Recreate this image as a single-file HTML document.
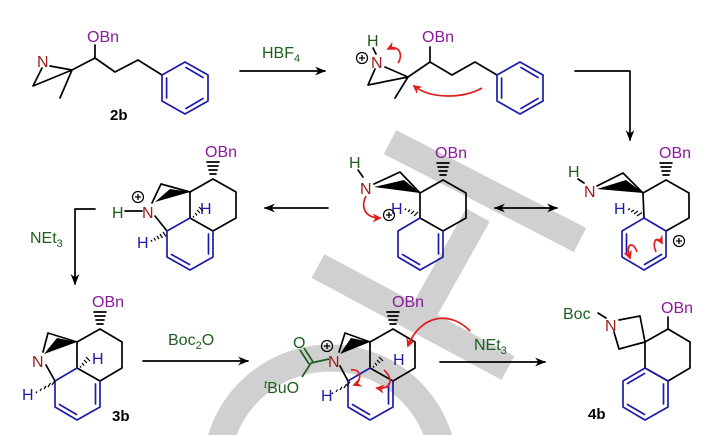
<!DOCTYPE html>
<html><head><meta charset="utf-8"><style>
html,body{margin:0;padding:0;background:#fff;width:715px;height:435px;overflow:hidden;}
svg{display:block;}
text{font-family:"Liberation Sans",Arial,sans-serif;}
.b{stroke:#000;stroke-width:1.7;fill:none;stroke-linecap:round;stroke-linejoin:round}
.u{stroke:#1c1ca8;stroke-width:1.7;fill:none;stroke-linecap:round;stroke-linejoin:round}
.r{stroke:#e21d1d;stroke-width:1.7;fill:none}
.ob{fill:#8b1a9c;font-size:16px}
.nr{fill:#9b1b1b;font-size:16px}
.gr{fill:#1e5e1e;font-size:16px}
.bl{fill:#1c1ca8;font-size:16px}
.lab{font-weight:bold;font-size:15px;fill:#000}
</style></head><body>
<svg width="715" height="435" viewBox="0 0 715 435" xmlns="http://www.w3.org/2000/svg">
<defs>
<marker id="ah" viewBox="0 0 10 10" refX="9" refY="5" markerWidth="11" markerHeight="11" markerUnits="userSpaceOnUse" orient="auto"><path d="M0,1 L10,5 L0,9 L3,5 Z" fill="#000"/></marker>
<marker id="as" viewBox="0 0 10 10" refX="9" refY="5" markerWidth="11" markerHeight="11" markerUnits="userSpaceOnUse" orient="auto-start-reverse"><path d="M0,1 L10,5 L0,9 L3,5 Z" fill="#000"/></marker>
<marker id="ra" viewBox="0 0 10 10" refX="8" refY="5" markerWidth="9" markerHeight="9" markerUnits="userSpaceOnUse" orient="auto"><path d="M0,0 L10,5 L0,10 L3,5 Z" fill="#e21d1d"/></marker>
</defs>
<g stroke="#d0d0d0" stroke-width="27" fill="none">
<line x1="390" y1="142" x2="580" y2="240"/>
<line x1="318" y1="266" x2="508" y2="368"/>
<line x1="478" y1="215" x2="418" y2="322"/>
<circle cx="330" cy="472" r="114"/>
</g>

<!-- 2b -->
<text x="37" y="67" class="nr">N</text>
<path class="b" d="M42,68 L33,86 L72,70 M50,66 L72,70 L60,98"/>
<path class="b" d="M72,70 L95,58 L115,72 L138,60 L162,75 M95,58 L95,45"/>
<text x="87" y="42" class="ob">OBn</text>
<polygon class="u" points="162,75 185,62 208,75 208,101 185,114 162,101"/>
<path class="u" d="M166.6,78 L166.6,98 M186,67.5 L203,77.5 M203,98.5 L186,108.5"/>
<text x="110" y="120" class="lab">2b</text>

<line x1="240" y1="71" x2="325" y2="71" class="b" marker-end="url(#ah)"/>
<text x="262" y="58" class="gr">HBF<tspan font-size="11" dy="4">4</tspan></text>

<text x="367" y="46" class="gr">H</text>
<line x1="373" y1="48" x2="376" y2="54" class="b"/>
<text x="371" y="68" class="nr">N</text>
<circle cx="362" cy="58" r="5.5" fill="none" stroke="#000" stroke-width="1.2"/><path d="M359,58 H365 M362,55 V61" stroke="#000" stroke-width="1.3"/>
<path class="b" d="M375,69 L368,85 L408,77 M385,67 L408,77 L395,98"/>
<path class="b" d="M408,77 L430,62 L452,75 L475,62 L497,75 M430,62 L430,47"/>
<text x="422" y="42" class="ob">OBn</text>
<polygon class="u" points="497,75 520,62 543,75 543,101 520,114 497,101"/>
<path class="u" d="M501.6,78 L501.6,98 M521,67.5 L538,77.5 M538,98.5 L521,108.5"/>
<path class="r" d="M398,63 C404,54 398,44 388,49" marker-end="url(#ra)"/>
<path class="r" d="M482,88 C465,98 432,100 414,86" marker-end="url(#ra)"/>

<path class="b" d="M575,71 L630,71 L630,140" marker-end="url(#ah)"/>

<!-- right middle -->
<text x="568" y="177" class="gr">H</text>
<line x1="578" y1="179" x2="584" y2="183" class="b"/>
<text x="584" y="197" class="nr">N</text>
<path class="b" d="M597,186 L623,173 L643,193"/>
<polygon points="597,189 643,193 626,180" fill="#000"/>
<path class="b" d="M643,193 L666,180 L689,193 L689,218 L666,231 M643,193 L644,218"/>
<path class="b" d="M663,175h6M662,171h8M661,167h10M660,163h12" stroke-width="1.2"/>
<text x="659" y="158" class="ob">OBn</text>
<polygon class="u" points="644,218 666,231 666,257 644,270 622,257 622,231"/>
<path class="u" d="M626.5,234 L626.5,254 M661.5,254.5 L644.5,264.5"/>
<text x="614" y="214" class="bl">H</text>
<path d="M628,210l2,-1.5M631,212l3,-2M634,214l4,-3M637,216l5,-3.5" stroke="#000" stroke-width="1.2"/>
<path class="r" d="M637,252 C633,240 625,244 630,258" marker-end="url(#ra)"/>
<path class="r" d="M656,252 C651,240 658,236 662,243" marker-end="url(#ra)"/>
<circle cx="679" cy="241" r="5.5" fill="none" stroke="#000" stroke-width="1.2"/><path d="M676,241 H682 M679,238 V244" stroke="#000" stroke-width="1.3"/>

<line x1="495" y1="208" x2="557" y2="208" class="b" marker-start="url(#as)" marker-end="url(#ah)"/>

<!-- middle -->
<text x="349" y="168" class="gr">H</text>
<line x1="358" y1="170" x2="363" y2="177" class="b"/>
<text x="360" y="194" class="nr">N</text>
<path class="b" d="M374,184 L400,172 L420,193"/>
<polygon points="374,187 420,193 404,180" fill="#000"/>
<path class="b" d="M420,193 L443,180 L466,193 L466,218 L443,231 L420,218 M420,193 L420,218"/>
<path class="b" d="M440,175h6M439,171h8M438,167h10M437,163h12" stroke-width="1.2"/>
<text x="435" y="158" class="ob">OBn</text>
<path class="u" d="M420,218 L398,231 L398,257 L420,270 L443,257 L443,231 M402.5,254.5 L419.5,264.5 M438.5,234 L438.5,254"/>
<text x="391" y="214" class="bl">H</text>
<path d="M405,210l1,-1.5M408,212l2,-2.5M411,214l3,-3M414,216l4,-4" stroke="#000" stroke-width="1.2"/>
<circle cx="389" cy="215" r="5.5" fill="none" stroke="#000" stroke-width="1.2"/><path d="M386,215 H392 M389,212 V218" stroke="#000" stroke-width="1.3"/>
<path class="r" d="M366,196 C360,208 366,218 380,218" marker-end="url(#ra)"/>

<line x1="328" y1="208" x2="265" y2="208" class="b" marker-end="url(#ah)"/>

<!-- left -->
<text x="112" y="218" class="gr">H</text>
<line x1="125" y1="211" x2="142" y2="211" class="b"/>
<text x="142" y="218" class="nr">N</text>
<circle cx="138" cy="197" r="5.5" fill="none" stroke="#000" stroke-width="1.2"/><path d="M135,197 H141 M138,194 V200" stroke="#000" stroke-width="1.3"/>
<path class="b" d="M152,203 L161,184 L190,192 M155,216 L167,231"/>
<polygon points="155,202 190,192 170,189" fill="#000"/>
<path class="b" d="M190,192 L213,179 L236,192 L236,218 L213,231 L190,218 M190,192 L190,218"/>
<path class="b" d="M210,174h6M209,170h8M208,166h10M207,162h12" stroke-width="1.2"/>
<text x="205" y="157" class="ob">OBn</text>
<path class="u" d="M190,218 L167,231 L167,257 L190,270 L213,257 L213,231 M171.5,254.5 L189.5,264.5 M208.5,234 L208.5,254"/>
<text x="200" y="214" class="bl">H</text>
<path d="M193,216l1,1.5M195,213l2,2.5M197,210l3,3M199,207l4,4" stroke="#000" stroke-width="1.2"/>
<text x="137" y="248" class="bl">H</text>
<path d="M151,240l1,1.5M154,238l1.5,2.5M157,236l2,3M160,234l2.5,4M163,232l3,4.5" stroke="#000" stroke-width="1.2"/>

<path class="b" d="M95,209 L75,209 L75,284" marker-end="url(#ah)"/>
<text x="30" y="243" class="gr">NEt<tspan font-size="11" dy="4">3</tspan></text>

<!-- 3b -->
<text x="32" y="367" class="nr">N</text>
<path class="b" d="M43,352 L48,333 L77,342 M46,365 L55,381"/>
<polygon points="44,354 77,342 57,338" fill="#000"/>
<path class="b" d="M77,342 L100,329 L122,342 L122,368 L100,381 L77,368 M77,342 L77,368"/>
<path class="b" d="M97,324h6M96,320h8M95,316h10M94,312h12" stroke-width="1.2"/>
<text x="92" y="307" class="ob">OBn</text>
<path class="u" d="M77,368 L55,381 L55,407 L77,420 L100,407 L100,381 M59.5,404.5 L76.5,414.5 M95.5,384 L95.5,404"/>
<text x="92" y="364" class="bl">H</text>
<path d="M80,366l1,1.5M82,363l2,2.5M84,360l3,3M86,357l4,4" stroke="#000" stroke-width="1.2"/>
<text x="22" y="400" class="bl">H</text>
<path d="M36,393l1,-1.5M40,391l1.5,-2.5M44,389l2,-3M48,387l2.5,-4M52,385l3,-4.5" stroke="#000" stroke-width="1.2"/>
<text x="112" y="421" class="lab">3b</text>

<line x1="143" y1="361" x2="248" y2="361" class="b" marker-end="url(#ah)"/>
<text x="168" y="345" class="gr">Boc<tspan font-size="11" dy="4">2</tspan><tspan dy="-4">O</tspan></text>

<!-- Boc-ammonium -->
<text x="293" y="348" class="gr">O</text>
<text x="264" y="393" class="gr"><tspan font-size="11" font-style="italic" dy="-5">t</tspan><tspan dy="5">BuO</tspan></text>
<path d="M300,350 L309,364 M304,348 L313,362 M311,363 L302,377 M311,363 L329,359" stroke="#1e5e1e" stroke-width="1.7" fill="none"/>
<text x="328" y="367" class="nr">N</text>
<circle cx="327" cy="346" r="5.5" fill="none" stroke="#000" stroke-width="1.2"/><path d="M324,346 H330 M327,343 V349" stroke="#000" stroke-width="1.3"/>
<path class="b" d="M339,352 L345,333 L370,342 M340,366 L348,381"/>
<polygon points="340,354 370,342 351,338" fill="#000"/>
<path class="b" d="M370,342 L393,329 L415,342 L415,368 L393,381 L370,368 M370,342 L370,368"/>
<path class="b" d="M390,324h6M389,320h8M388,316h10M387,312h12" stroke-width="1.2"/>
<text x="392" y="307" class="ob">OBn</text>
<path class="u" d="M370,368 L348,381 L348,407 L370,420 L393,407 L393,381 M352.5,404.5 L369.5,414.5 M388.5,384 L388.5,404"/>
<text x="393" y="365" class="bl">H</text>
<path d="M373,366l1,1.5M375,363l2,2.5M377,360l3,3M379,357l4,4" stroke="#000" stroke-width="1.2"/>
<text x="321" y="401" class="bl">H</text>
<path d="M332,394l1,-1.5M336,392l1.5,-2.5M340,390l2,-3M344,388l2.5,-4M347,386l3,-4.5" stroke="#000" stroke-width="1.2"/>
<path class="r" d="M351,370 C362,368 362,382 354,385" marker-end="url(#ra)"/>
<path class="r" d="M384,370 C395,380 390,390 377,388" marker-end="url(#ra)"/>
<path class="r" d="M470,331 C450,310 420,315 408,346" marker-end="url(#ra)"/>

<line x1="440" y1="362" x2="545" y2="362" class="b" marker-end="url(#ah)"/>
<text x="474" y="350" class="gr">NEt<tspan font-size="11" dy="4">3</tspan></text>

<!-- 4b -->
<text x="563" y="319" class="gr">Boc</text>
<line x1="598" y1="313" x2="606" y2="318" class="b"/>
<text x="605" y="331" class="nr">N</text>
<path class="b" d="M619,320 L640,316 L645,342 L619,349 L614,332"/>
<path class="b" d="M645,342 L668,329 L690,342 L690,368 L668,381 L645,368 L645,342 M668,329 L668,317"/>
<text x="661" y="313" class="ob">OBn</text>
<polygon class="u" points="645,368 668,381 668,407 645,420 623,407 623,381"/>
<path class="u" d="M663.5,384 L663.5,404 M627.5,404.5 L644.5,414.5 M627.5,383.5 L644.5,373.5"/>
<text x="588" y="419" class="lab">4b</text>
</svg>
</body></html>
